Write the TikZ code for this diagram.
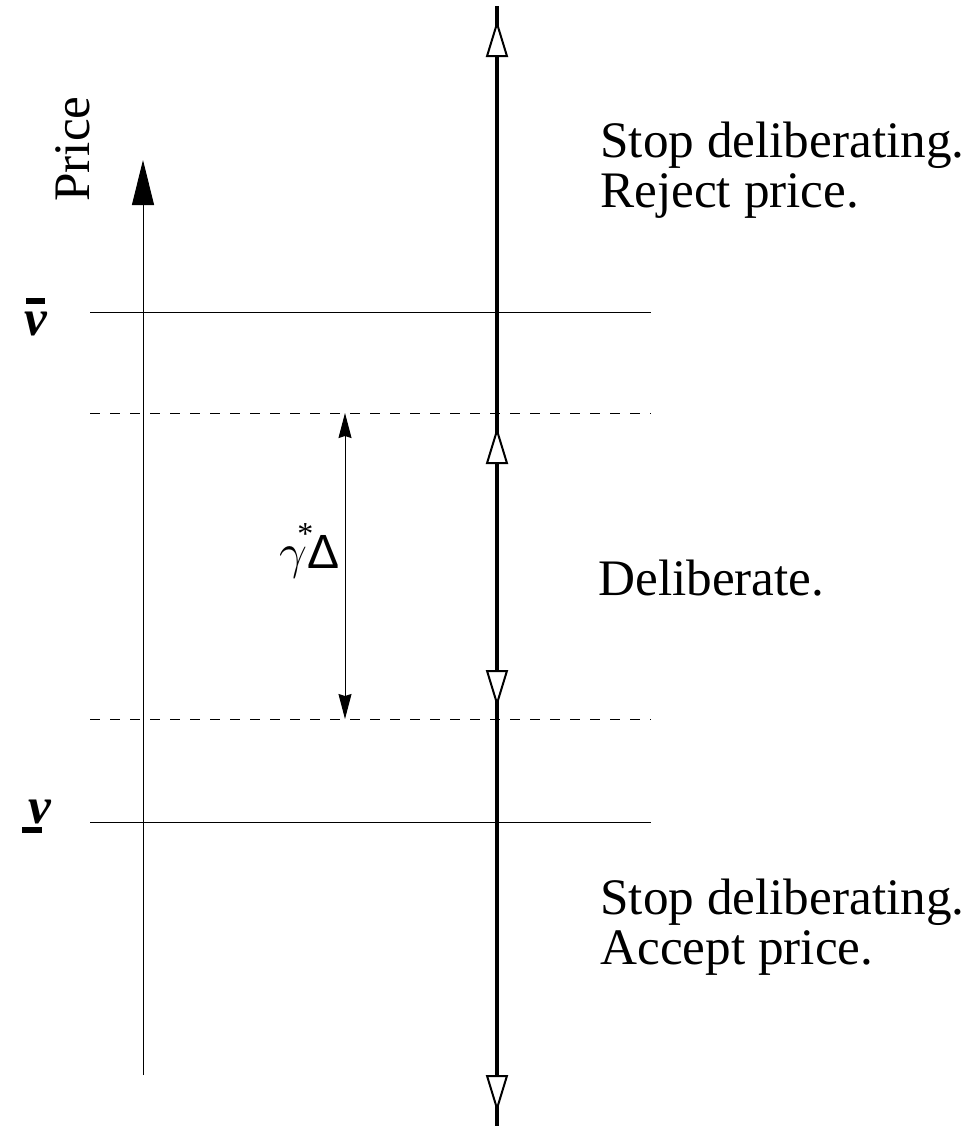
\documentclass[tikz,border=0pt]{standalone}
\usepackage{fontspec}
\setmainfont{Liberation Serif}
\newfontfamily\deltafont{Liberation Sans}
\usetikzlibrary{arrows.meta}
\tikzset{
    % line styles
    level/.style={line width=0.5pt},
    cut level/.style={level, dash pattern=on 5pt off 5pt},
    axis/.style={line width=0.5pt, -{Triangle[length=22.5pt, width=11pt]}},
    path line/.style={line width=2pt},
    flow tip/.style={path line, -{Triangle[length=18.5pt, width=11pt, fill=white, line width=1pt]}},
    gap arrow/.style={line width=0.5pt, {Stealth[length=12.5pt, width=6.5pt, inset=1pt]}-{Stealth[length=12.5pt, width=6.5pt, inset=1pt]}},
    % text styles
    big text/.style={font=\fontsize{25.6}{25}\selectfont, inner sep=0pt},
    region/.style={big text, align=left, anchor=base west},
}
\begin{document}
\begin{tikzpicture}[x=0.5pt, y=-0.5pt]
    \useasboundingbox (0,0) rectangle (976,1126);

    % price axis
    \coordinate (axbot) at (143,1075);
    \coordinate (axtop) at (143,160);
    \draw[axis] (axbot) -- (axtop);
    \node[big text, rotate=90, anchor=base west] (price) at (90,202) {Price};

    % value levels
    \coordinate (hiL) at (90,312);  \coordinate (hiR) at (651,312);
    \coordinate (loL) at (90,822);  \coordinate (loR) at (651,822);
    \coordinate (upL) at (90,413);  \coordinate (upR) at (651,413);
    \coordinate (dnL) at (90,719);  \coordinate (dnR) at (651,719);
    \draw[level] (hiL) -- (hiR);
    \draw[level] (loL) -- (loR);
    \draw[cut level] (upL) -- (upR);
    \draw[cut level] (dnL) -- (dnR);
    \node[big text, anchor=base west] (vbar) at (24,335)
        {\ooalign{\hidewidth\rule[15.5pt]{9.5pt}{3pt}\hidewidth\cr\textbf{\textit{v}}\cr}};
    \node[big text, anchor=base west] (vunder) at (22,823)
        {\ooalign{\rule[-5pt]{10pt}{3pt}\hidewidth\cr\kern3pt\textbf{\textit{v}}\cr}};

    % deliberation band
    \coordinate (gtop) at (345,413);
    \coordinate (gbot) at (345,719);
    \draw[gap arrow] (gtop) -- (gbot);
    \node[inner sep=0pt, anchor=base west] (gap) at (279,568)
        {{\fontsize{23}{24}\selectfont$\gamma$}\kern-5pt\raisebox{12pt}{\fontsize{16}{16}\selectfont *}\kern-3pt{\deltafont\fontsize{24}{26}\selectfont Δ}};

    % dynamics line
    \coordinate (ltop) at (497,6);
    \coordinate (lbot) at (497,1126);
    \draw[path line] (lbot) -- (ltop);
    \draw[flow tip] (497,120) -- (497,20);
    \draw[flow tip] (497,520) -- (497,427);
    \draw[flow tip] (497,600) -- (497,707);
    \draw[flow tip] (497,1000) -- (497,1112);

    % regions
    \node[region] (reject) at (600,207) {Stop deliberating.\\Reject price.};
    \node[region] (deliberate) at (598,595) {Deliberate.};
    \node[region] (accept) at (600,964) {Stop deliberating.\\Accept price.};
\end{tikzpicture}
\end{document}
